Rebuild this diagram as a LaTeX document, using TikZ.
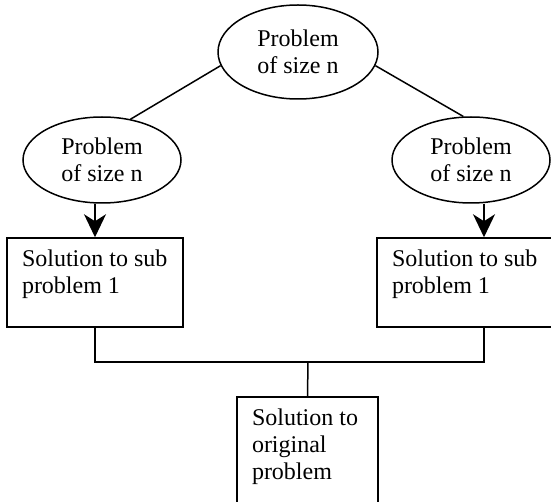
\documentclass[tikz,border=0pt]{standalone}
\usepackage{fontspec}
\setmainfont{Liberation Serif}
\usetikzlibrary{shapes.geometric,arrows.meta}
\newcommand{\cell}[3]{\parbox[c][#2][t]{#1}{#3}}

\begin{document}
\begin{tikzpicture}[x=1pt,y=-1pt,line width=1.5pt,
  every node/.style={font=\fontsize{24}{27}\selectfont},
  prob/.style={draw,ellipse,align=center,inner sep=0pt,minimum width=158pt,minimum height=86pt},
  sol/.style={draw,rectangle,inner xsep=15pt,inner ysep=12pt},
  arr/.style={-{Stealth[length=23pt,width=22pt,inset=7pt]}}]
\useasboundingbox (0,0) rectangle (551,502);
\node (top) at (298,52) [prob,minimum width=160pt,minimum height=94pt] {Problem\\of size n};
\node (le) at (102,160) [prob] {Problem\\of size n};
\node (re) at (471,160) [prob] {Problem\\of size n};
\node (lb) at (95,282.5) [sol] {\cell{146pt}{65pt}{Solution to sub\\problem 1}};
\node (rb) at (465,282.5) [sol] {\cell{146pt}{65pt}{Solution to sub\\problem 1}};
\node (bb) at (307.5,456) [sol] {\cell{111pt}{94pt}{Solution to\\original\\problem}};
\coordinate (join) at (308,362);
\coordinate (rj) at ([xshift=19pt]rb.north);
\coordinate (rd) at ([xshift=19pt]rb.south);
\draw (top.190) -- (le.55);
\draw (top.-10) -- (re.100);
\draw[arr] (lb.north |- le.south) -- (lb.north);
\draw[arr] (rj |- re.south) -- (rj);
\draw (lb.south) |- (join) -| (rd);
\draw (join) -- (bb.north);
\end{tikzpicture}
\end{document}
